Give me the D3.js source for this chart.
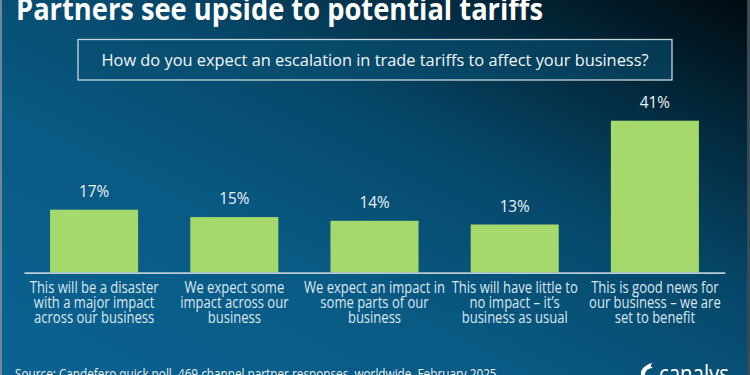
<!DOCTYPE html>
<html><head><meta charset="utf-8">
<script src="https://cdn.jsdelivr.net/npm/d3@7"></script>
<style>html,body{margin:0;padding:0;background:#063f5e;}svg{display:block;}</style>
</head><body>
<svg id="c" width="750" height="375"></svg>
<script>
const categories = [
  ["This will be a disaster","with a major impact","across our business"],
  ["We expect some","impact across our","business"],
  ["We expect an impact in","some parts of our","business"],
  ["This will have little to","no impact \u2013 it\u2019s","business as usual"],
  ["This is good news for","our business \u2013 we are","set to benefit"]
];
const values = [17, 15, 14, 13, 41];
const valueLabels = ["17%","15%","14%","13%","41%"];
const title = "Partners see upside to potential tariffs";
const question = "How do you expect an escalation in trade tariffs to affect your business?";
const source = "Source: Candefero quick poll, 469 channel partner responses, worldwide, February 2025";

const W = 750, H = 375;
const svg = d3.select("#c");
const FONT = "'Open Sans', sans-serif";

const defs = svg.append("defs");
const g = defs.append("linearGradient").attr("id","bg")
  .attr("x1","0").attr("y1","1").attr("x2","1").attr("y2","0");
g.append("stop").attr("offset","0").attr("stop-color","#0b6392");
g.append("stop").attr("offset","0.35").attr("stop-color","#095a84");
g.append("stop").attr("offset","0.6").attr("stop-color","#06486a");
g.append("stop").attr("offset","0.8").attr("stop-color","#032a3e");
g.append("stop").attr("offset","1").attr("stop-color","#010a10");
svg.append("rect").attr("width",W).attr("height",H).attr("fill","url(#bg)");
svg.append("rect").attr("x",0).attr("y",0).attr("width",2).attr("height",H).attr("fill","#6f8796");
svg.append("rect").attr("x",747).attr("y",0).attr("width",3).attr("height",H).attr("fill","#3a4a54");

function condense(sel, k){
  sel.each(function(){
    const len = this.getComputedTextLength();
    d3.select(this).attr("textLength", len*k).attr("lengthAdjust","spacingAndGlyphs");
  });
}

svg.append("text").attr("x",16).attr("y",20)
  .attr("font-family",FONT).attr("font-weight",700).attr("font-size",30)
  .attr("fill","#ffffff").attr("textLength",527).attr("lengthAdjust","spacingAndGlyphs")
  .text(title);

svg.append("rect").attr("x",78).attr("y",39.5).attr("width",594).attr("height",40.5)
  .attr("fill","#0a5275").attr("fill-opacity",0.55).attr("stroke","#c9d6de").attr("stroke-width",1.3);
svg.append("text").attr("x",375).attr("y",66).attr("text-anchor","middle")
  .attr("font-family",FONT).attr("font-size",17).attr("fill","#f2f6f8")
  .attr("textLength",547).attr("lengthAdjust","spacingAndGlyphs")
  .text(question);

const x = d3.scaleBand().domain(d3.range(values.length)).range([24,725])
  .paddingInner(0.372).paddingOuter(0.186);
const y = d3.scaleLinear().domain([0,41]).range([272.7,120.7]);

svg.selectAll("rect.bar").data(values).join("rect").attr("class","bar")
  .attr("x",(d,i)=>x(i)).attr("width",x.bandwidth())
  .attr("y",d=>y(d)).attr("height",d=>y(0)-y(d))
  .attr("fill","#a6d96b");

const axis = svg.append("g").attr("transform",`translate(0,${y(0)})`)
  .call(d3.axisBottom(x).tickSize(0).tickFormat(""));
axis.select(".domain").attr("stroke","#b9cbd6").attr("stroke-width",1.8);

svg.selectAll("text.val").data(values).join("text").attr("class","val")
  .attr("x",(d,i)=>x(i)+x.bandwidth()/2).attr("y",d=>y(d)-13)
  .attr("text-anchor","middle").attr("font-family",FONT).attr("font-size",17)
  .attr("fill","#eef3f6").text((d,i)=>valueLabels[i])
  .call(condense, 0.9);

const cat = svg.selectAll("g.cat").data(categories).join("g").attr("class","cat")
  .attr("transform",(d,i)=>`translate(${x(i)+x.bandwidth()/2},0)`);
cat.selectAll("text").data(d=>d).join("text")
  .attr("x",0).attr("y",(d,j)=>293+j*15).attr("text-anchor","middle")
  .attr("font-family",FONT).attr("font-size",15.5).attr("fill","#dbe7ee")
  .text(d=>d).call(condense, 0.84);

svg.append("text").attr("x",15).attr("y",379)
  .attr("font-family",FONT).attr("font-size",14).attr("fill","#e6eef3")
  .text(source).call(condense, 0.84);

svg.append("path")
  .attr("d","M655,362 C646,364 640,369 641,375 L645,375 C645,371 648,368 653,368 C649,366 651,363 655,362 Z")
  .attr("fill","#ffffff");
svg.append("text").attr("x",659).attr("y",382)
  .attr("font-family",FONT).attr("font-size",24).attr("fill","#ffffff")
  .attr("textLength",70).attr("lengthAdjust","spacingAndGlyphs")
  .text("canalys");
</script>
</body></html>
